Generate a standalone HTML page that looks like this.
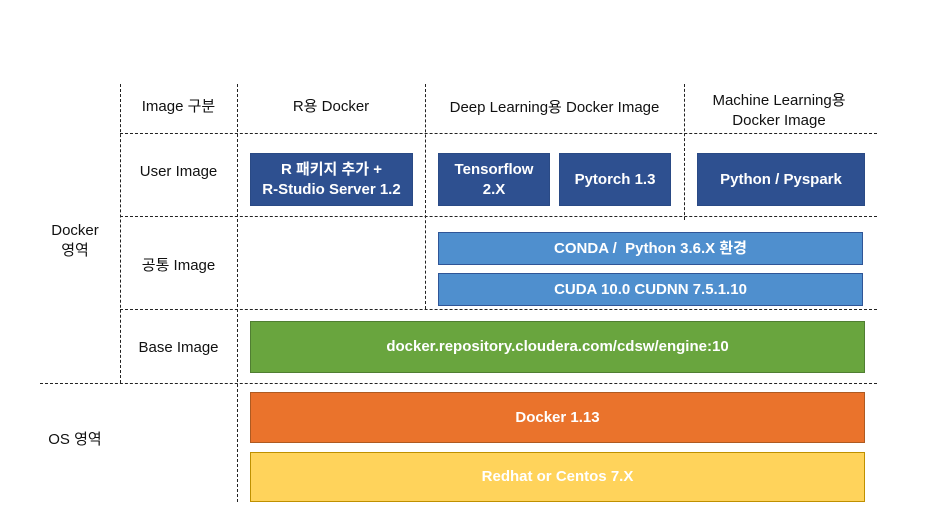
<!DOCTYPE html>
<html><head><meta charset="utf-8"><style>
body{margin:0;width:929px;height:522px;background:#fff;position:relative;overflow:hidden;font-family:"Liberation Sans","Noto Sans CJK KR",sans-serif;}
.v{position:absolute;width:0;border-left:1px dashed #222;}
.h{position:absolute;height:0;border-top:1px dashed #222;}
.t{position:absolute;font-size:15px;color:#111;text-align:center;display:flex;align-items:center;justify-content:center;line-height:20px;}
.b{position:absolute;color:#fff;font-size:15px;font-weight:bold;display:flex;align-items:center;justify-content:center;text-align:center;line-height:20px;box-sizing:border-box;}
.d{background:#2E5090;border:1px solid #2A4A85;}
.l{background:#4F8FCE;border:1px solid #2F5597;}
</style></head><body>
<div class="v" style="left:120px;top:84px;height:299px"></div>
<div class="v" style="left:237px;top:84px;height:418px"></div>
<div class="v" style="left:425px;top:84px;height:225px"></div>
<div class="v" style="left:684px;top:84px;height:136px"></div>
<div class="h" style="left:120px;top:133px;width:757px"></div>
<div class="h" style="left:120px;top:216px;width:757px"></div>
<div class="h" style="left:120px;top:309px;width:757px"></div>
<div class="h" style="left:40px;top:383px;width:837px"></div>

<div class="t" style="left:120px;top:95px;width:117px;height:24px">Image 구분</div>
<div class="t" style="left:237px;top:95px;width:188px;height:24px">R용 Docker</div>
<div class="t" style="left:425px;top:96px;width:259px;height:24px">Deep Learning용 Docker Image</div>
<div class="t" style="left:684px;top:90px;width:190px;height:42px">Machine Learning용<br>Docker Image</div>
<div class="t" style="left:120px;top:160px;width:117px;height:24px">User Image</div>
<div class="t" style="left:120px;top:254px;width:117px;height:24px">공통 Image</div>
<div class="t" style="left:120px;top:336px;width:117px;height:24px">Base Image</div>
<div class="t" style="left:40px;top:220px;width:70px;height:42px">Docker<br>영역</div>
<div class="t" style="left:30px;top:428px;width:90px;height:24px">OS 영역</div>

<div class="b d" style="left:250px;top:153px;width:163px;height:53px">R 패키지 추가 +<br>R-Studio Server 1.2</div>
<div class="b d" style="left:438px;top:153px;width:112px;height:53px">Tensorflow<br>2.X</div>
<div class="b d" style="left:559px;top:153px;width:112px;height:53px">Pytorch 1.3</div>
<div class="b d" style="left:697px;top:153px;width:168px;height:53px">Python / Pyspark</div>
<div class="b l" style="left:438px;top:232px;width:425px;height:33px">CONDA /&nbsp; Python 3.6.X 환경</div>
<div class="b l" style="left:438px;top:273px;width:425px;height:33px">CUDA 10.0 CUDNN 7.5.1.10</div>
<div class="b" style="left:250px;top:321px;width:615px;height:52px;background:#69A53E;border:1px solid #507E32">docker.repository.cloudera.com/cdsw/engine:10</div>
<div class="b" style="left:250px;top:392px;width:615px;height:51px;background:#EA732C;border:1px solid #AE5A21">Docker 1.13</div>
<div class="b" style="left:250px;top:452px;width:615px;height:50px;background:#FFD35B;border:1px solid #BF9000">Redhat or Centos 7.X</div>
</body></html>
